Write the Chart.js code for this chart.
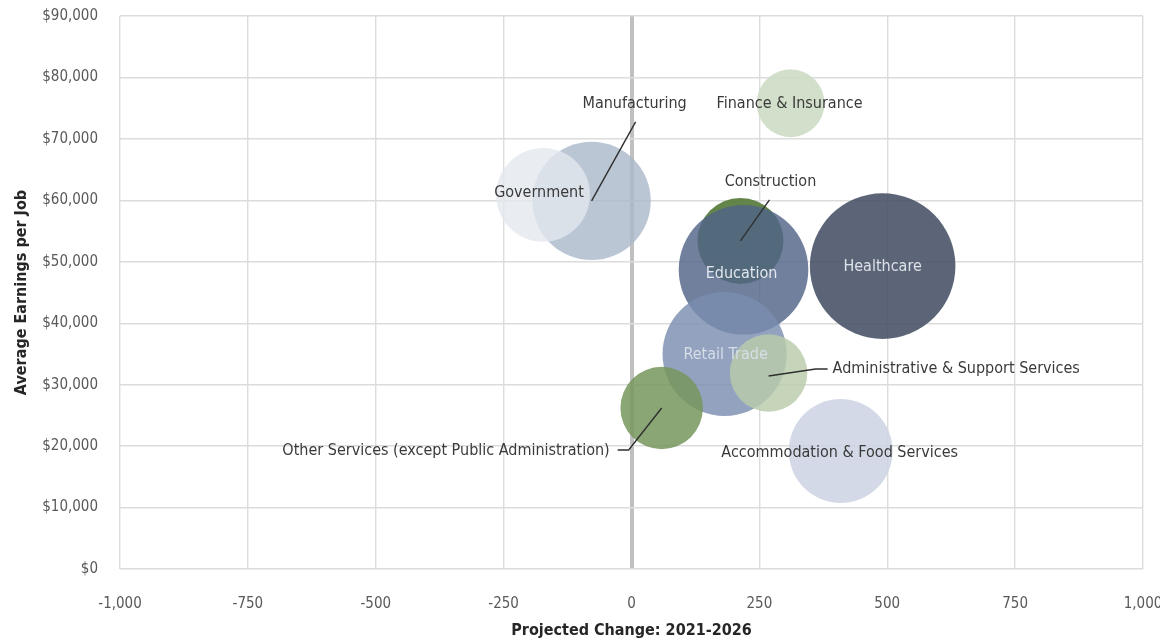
<!DOCTYPE html>
<html>
<head>
<meta charset="utf-8">
<script src="https://cdn.jsdelivr.net/npm/chart.js@4"></script>
<style>
  html, body { margin: 0; padding: 0; background: #fff; }
  #wrap { width: 1160px; height: 640px; }
</style>
</head>
<body>
<div id="wrap"><canvas id="chart" width="1160" height="640"></canvas></div>
<script>
// values
const industries = [
    "Manufacturing",
    "Government",
    "Construction",
    "Education",
    "Healthcare",
    "Retail Trade",
    "Accommodation & Food Services",
    "Other Services (except Public Administration)",
    "Administrative & Support Services",
    "Finance & Insurance"
];
const projectedChange = [-78, -173, 213, 219, 491, 182, 409, 59, 268, 311];
const avgEarnings = [59900, 60900, 53400, 48700, 49300, 35000, 19200, 26200, 31900, 75800];
// bubble size (estimated jobs), radius drawn as sqrt of it
const jobs = [3500, 2200, 1850, 4200, 5300, 3850, 2700, 1700, 1500, 1150];

const xTicks = [-1000, -750, -500, -250, 0, 250, 500, 750, 1000];
const yTicks = [0, 10000, 20000, 30000, 40000, 50000, 60000, 70000, 80000, 90000];

const bubbleColors = [
    "rgba(170,184,203,0.80)",
    "rgba(228,232,239,0.80)",
    "rgba(92,126,64,0.95)",
    "rgba(80,100,136,0.82)",
    "rgba(68,80,100,0.88)",
    "rgba(122,141,177,0.82)",
    "rgba(205,212,226,0.88)",
    "rgba(118,150,92,0.85)",
    "rgba(186,204,170,0.82)",
    "rgba(205,219,196,0.90)"
];

// label placement relative to the bubble centre (pixels)
const labelStyle = [
    { dx: 43, dy: -97, align: "center", color: "#3a3a3a", leader: [[0, 0], [44, -79]] },
    { dx: -4, dy: -2, align: "center", color: "#3a3a3a" },
    { dx: 30, dy: -59, align: "center", color: "#3a3a3a", leader: [[0, 0], [29, -41]] },
    { dx: -2, dy: 4, align: "center", color: "#e3e7ee" },
    { dx: 0, dy: 1, align: "center", color: "#dde1e8" },
    { dx: 1, dy: 1, align: "center", color: "#d8dee8" },
    { dx: -1, dy: 2, align: "center", color: "#3a3a3a" },
    { dx: -52, dy: 43, align: "right", color: "#3a3a3a", leader: [[0, 0], [-33, 42], [-44, 42]] },
    { dx: 64, dy: -4, align: "left", color: "#3a3a3a", leader: [[0, 3], [47, -4], [59, -4]] },
    { dx: -1, dy: 1, align: "center", color: "#3a3a3a" }
];

const FONT = "'Liberation Sans Narrow', 'DejaVu Sans Condensed', 'Open Sans', sans-serif";

const points = industries.map((name, i) => ({
    x: projectedChange[i],
    y: avgEarnings[i],
    r: Math.sqrt(jobs[i])
}));

const bubbleLabels = {
    id: "bubbleLabels",
    afterDatasetsDraw(chart)
    {
        const ctx = chart.ctx;
        const meta = chart.getDatasetMeta(0);
        ctx.save();
        meta.data.forEach((el, i) =>
        {
            const s = labelStyle[i];
            const px = el.x, py = el.y;
            if(s.leader)
            {
                ctx.beginPath();
                ctx.strokeStyle = "#2f2f2f";
                ctx.lineWidth = 1.4;
                s.leader.forEach((p, k) =>
                {
                    if(k === 0) ctx.moveTo(px + p[0], py + p[1]);
                    else ctx.lineTo(px + p[0], py + p[1]);
                });
                ctx.stroke();
            }
            ctx.font = "16px " + FONT;
            ctx.fillStyle = s.color;
            ctx.textAlign = s.align;
            ctx.textBaseline = "middle";
            ctx.fillText(industries[i], px + s.dx, py + s.dy);
        });
        ctx.restore();
    }
};

const chart = new Chart(document.getElementById("chart"), {
    type: "bubble",
    data: {
        datasets: [{
            label: "Industries",
            data: points,
            backgroundColor: bubbleColors,
            borderWidth: 0,
            hoverBorderWidth: 0
        }]
    },
    options: {
        responsive: false,
        animation: false,
        layout: { autoPadding: false, padding: { top: 16, right: 17, left: 12, bottom: 0 } },
        plugins: {
            legend: { display: false },
            tooltip: { enabled: false }
        },
        scales: {
            x: {
                type: "linear",
                min: -1000,
                max: 1000,
                afterBuildTicks: (scale) => { scale.ticks = xTicks.map(v => ({ value: v })); },
                afterFit: (scale) => {
                    scale.height = 71;
                    scale.paddingLeft = 0;
                    scale.paddingRight = 0;
                },
                ticks: {
                    color: "#595959",
                    font: { family: FONT, size: 15 },
                    padding: 26,
                    maxRotation: 0,
                    callback: (v) => v.toLocaleString("en-US")
                },
                grid: {
                    color: (c) => c.tick && c.tick.value === 0 ? "#c0c0c0" : "#dcdcdc",
                    lineWidth: (c) => c.tick && c.tick.value === 0 ? 4 : 1.4,
                    drawTicks: false
                },
                border: { display: false },
                title: {
                    display: true,
                    text: "Projected Change: 2021-2026",
                    color: "#262626",
                    font: { family: FONT, size: 16, weight: "bold" },
                    padding: { top: 4, bottom: 0 }
                }
            },
            y: {
                type: "linear",
                min: 0,
                max: 90000,
                afterBuildTicks: (scale) => { scale.ticks = yTicks.map(v => ({ value: v })); },
                afterFit: (scale) => {
                    scale.width = 108;
                    scale.paddingTop = 0;
                    scale.paddingBottom = 0;
                },
                ticks: {
                    color: "#595959",
                    font: { family: FONT, size: 15 },
                    padding: 22,
                    callback: (v) => "$" + v.toLocaleString("en-US")
                },
                grid: {
                    color: "#dcdcdc",
                    lineWidth: 1.4,
                    drawTicks: false
                },
                border: { display: false },
                title: {
                    display: true,
                    text: "Average Earnings per Job",
                    color: "#262626",
                    font: { family: FONT, size: 16, weight: "bold" },
                    padding: { top: 0, bottom: 2 }
                }
            }
        }
    },
    plugins: [bubbleLabels]
});
</script>
</body>
</html>
